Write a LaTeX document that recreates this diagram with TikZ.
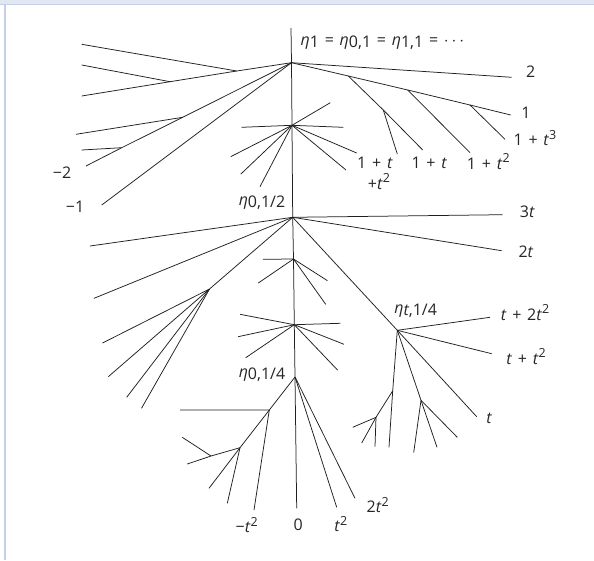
\documentclass[tikz,border=0pt]{standalone}
\usepackage{fontspec}
\setmainfont{Open Sans}
\newcommand\lo[1]{\raisebox{-0.3ex}{#1}}
\newcommand\hi[1]{\raisebox{0.8ex}{\fontsize{12.5}{13}\selectfont #1}}
\newcommand\ti{\textit{t}}
\newcommand\et{\textit{η}}
\newcommand\gp{\hspace{0.36em}}
\definecolor{framefill}{HTML}{E1E8F3}
\definecolor{framecol}{HTML}{C5D0E5}
\begin{document}
\begin{tikzpicture}[x=1pt,y=-1pt,
  br/.style={line width=0.75pt, draw=black!88},
  lab/.style={font=\fontsize{16}{19}\selectfont, inner sep=0pt, text=black!85}]
\useasboundingbox (0,0) rectangle (594,560);
\fill[white] (0,0) rectangle (594,560);
\fill[framefill] (0,0) rectangle (594,4);
\draw[framecol, line width=1.8pt] (0,4.5) -- (594,4.5);
\draw[framecol, line width=1.8pt] (5,4.5) -- (5,560);

% trunk
\coordinate (T0) at (291,28);
\coordinate (A) at (291.5,62.7);
\coordinate (B) at (292,125.3);
\coordinate (C) at (292.7,217.3);
\coordinate (D) at (293.5,259);
\coordinate (E) at (294.3,324.7);
\coordinate (F) at (295,377);
\coordinate (F0) at (296.7,508.3);
\draw[br] (T0) -- (A) -- (B) -- (C) -- (D) -- (E) -- (F) -- (F0);

% A left
\coordinate (a1) at (236.7,71);
\coordinate (a1u) at (81.7,44.3);
\coordinate (a2) at (170,81.7);
\coordinate (a2u) at (81.7,65);
\coordinate (a2d) at (81.7,96);
\coordinate (a3) at (182.7,117.3);
\coordinate (a3l) at (76,134.3);
\coordinate (a4) at (121.7,147.7);
\coordinate (a4l) at (81.7,150);
\coordinate (a4e) at (86,166);
\coordinate (a5e) at (101.7,205);
\draw[br] (A) -- (a1) -- (a1u);
\draw[br] (a1) -- (a2) -- (a2u);
\draw[br] (a2) -- (a2d);
\draw[br] (A) -- (a3) -- (a4) -- (a4e);
\draw[br] (a3) -- (a3l);
\draw[br] (a4) -- (a4l);
\draw[br] (A) -- (a5e);

% A right
\coordinate (r2) at (511.7,77.3);
\coordinate (b1) at (348.3,76);
\coordinate (b2) at (407.7,90);
\coordinate (b3) at (470,105);
\coordinate (b4e) at (510.7,115);
\coordinate (b1a) at (383.3,110);
\coordinate (b1a1) at (397.3,154);
\coordinate (b1a2) at (422.7,150);
\coordinate (b2e) at (470,152.7);
\coordinate (b3e) at (505,139.3);
\draw[br] (A) -- (r2);
\draw[br] (A) -- (b1) -- (b2) -- (b3) -- (b4e);
\draw[br] (b1) -- (b1a) -- (b1a1);
\draw[br] (b1a) -- (b1a2);
\draw[br] (b2) -- (b2e);
\draw[br] (b3) -- (b3e);

% B star
\foreach \n/\p in {B1/{241.5,127.3}, B2/{230.7,156.7}, B3/{240.7,174.2}, B4/{260,186.7},
                   B5/{330.3,102.7}, B6/{343.3,127.3}, B7/{356.7,153}, B8/{346,170}}
  {\coordinate (\n) at (\p); \draw[br] (B) -- (\n);}

% C
\coordinate (C1) at (90,246);
\coordinate (C2) at (94,298.3);
\coordinate (c1) at (209.5,289);
\coordinate (C3) at (502.7,214.7);
\coordinate (C4) at (501.7,250.7);
\coordinate (G) at (397.3,330.3);
\draw[br] (C) -- (C1);
\draw[br] (C) -- (C2);
\draw[br] (C) -- (C3);
\draw[br] (C) -- (C4);
\draw[br] (C) -- (G);
\draw[br] (C) -- (c1);
\foreach \n/\p in {c11/{102.5,343}, c12/{108.3,376.7}, c13/{126.7,397.3}, c14/{141.5,408.3}}
  {\coordinate (\n) at (\p); \draw[br] (c1) -- (\n);}

% D
\foreach \n/\p in {D1/{262.8,259.3}, D2/{258.3,283}, D3/{327.5,280.7}, D4/{325.7,304.3}}
  {\coordinate (\n) at (\p); \draw[br] (D) -- (\n);}

% E
\foreach \n/\p in {E1/{240,314.3}, E2/{238,336.7}, E3/{245.7,357.7}, E4/{340.3,323.3}, E5/{344,344.3}, E6/{337.5,370}}
  {\coordinate (\n) at (\p); \draw[br] (E) -- (\n);}

% F
\coordinate (F1) at (336.7,507.3);
\coordinate (F2) at (355,498.3);
\coordinate (f1) at (269.3,410);
\coordinate (f1h) at (180,410);
\coordinate (f1d) at (254,510);
\coordinate (f2) at (240,447.7);
\coordinate (f2a) at (209,488.3);
\coordinate (f2b) at (227.3,503.3);
\coordinate (f3) at (211,456);
\coordinate (f3e) at (187.3,464);
\coordinate (f3u) at (182.3,437.3);
\draw[br] (F) -- (F1);
\draw[br] (F) -- (F2);
\draw[br] (F) -- (f1) -- (f1h);
\draw[br] (f1) -- (f1d);
\draw[br] (f1) -- (f2) -- (f2a);
\draw[br] (f2) -- (f2b);
\draw[br] (f2) -- (f3) -- (f3e);
\draw[br] (f3) -- (f3u);

% G
\coordinate (G1) at (490,317.3);
\coordinate (G2) at (491.7,353.7);
\coordinate (G3) at (476.7,416.7);
\coordinate (g1) at (421,400.3);
\coordinate (g2) at (392.7,390.8);
\coordinate (g3) at (376,417.3);
\draw[br] (G) -- (G1);
\draw[br] (G) -- (G2);
\draw[br] (G) -- (G3);
\draw[br] (G) -- (g1);
\draw[br] (G) -- (g2) -- (g3);
\foreach \n/\p in {g11/{413.7,452.5}, g12/{437,447.3}, g13/{457.3,437.3}}
  {\coordinate (\n) at (\p); \draw[br] (g1) -- (\n);}
\coordinate (g21) at (389,447.3);
\draw[br] (g2) -- (g21);
\foreach \n/\p in {g31/{352.7,427.3}, g32/{361.7,443}, g33/{375,446.7}}
  {\coordinate (\n) at (\p); \draw[br] (g3) -- (\n);}

% labels
\node[lab, anchor=west] (LA) at (300.5,43) {\et\lo{1}\gp=\gp\et\lo{0,1}\gp=\gp\et\lo{1,1}\gp=\gp$\cdots$};
\node[lab] (L2) at (530.7,72) {2};
\node[lab] (L1) at (526,113) {1};
\node[lab] (L1t3) at (535,138) {1\gp+\gp\ti\hi{3}};
\node[lab] (L1ta) at (375,163.3) {1\gp+\gp\ti};
\node[lab] (Lt2a) at (379,181.5) {+\ti\hi{2}};
\node[lab] (L1tb) at (429.3,163.3) {1\gp+\gp\ti};
\node[lab] (L1t2) at (488.3,161.5) {1\gp+\gp\ti\hi{2}};
\node[lab] (Lm2) at (62,173) {−2};
\node[lab] (Lm1) at (75,207) {−1};
\node[lab] (LC) at (262,203) {\et\lo{0,1/2}};
\node[lab] (L3t) at (527.3,212) {3\ti};
\node[lab] (L2t) at (526,252) {2\ti};
\node[lab] (LG) at (415.7,311) {\et\lo{\textit{t},1/4}};
\node[lab] (Lt2t2) at (525,312.5) {\ti\gp+\gp2\ti\hi{2}};
\node[lab] (Ltt2) at (526,356.5) {\ti\gp+\gp\ti\hi{2}};
\node[lab] (LF) at (262,375) {\et\lo{0,1/4}};
\node[lab] (Lt) at (489.3,418) {\ti};
\node[lab] (Lmt2) at (246.7,525) {−\ti\hi{2}};
\node[lab] (L0) at (298.3,525) {0};
\node[lab] (Lt2) at (340.7,524) {\ti\hi{2}};
\node[lab] (L2t2) at (377.7,505) {2\ti\hi{2}};
\end{tikzpicture}
\end{document}
